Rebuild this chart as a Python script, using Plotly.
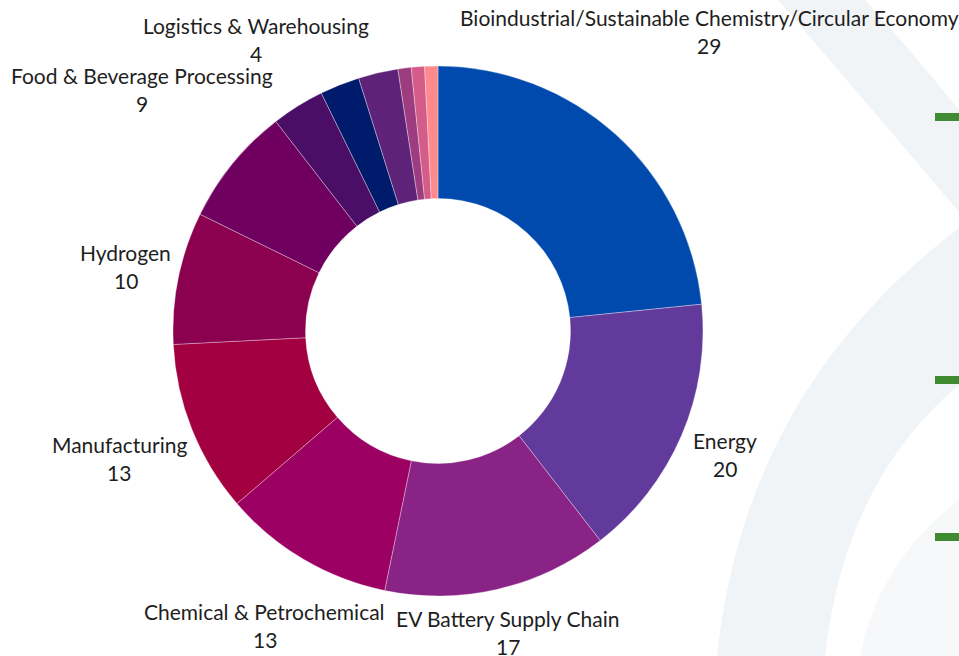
import math
import plotly.graph_objects as go

# ---- data ----
categories = [
    "Bioindustrial/Sustainable Chemistry/Circular Economy",
    "Energy",
    "EV Battery Supply Chain",
    "Chemical & Petrochemical",
    "Manufacturing",
    "Hydrogen",
    "Food & Beverage Processing",
    "Logistics & Warehousing",
    "Other sector A",
    "Other sector B",
    "Other sector C",
    "Other sector D",
    "Other sector E",
]
values = [29, 20, 17, 13, 13, 10, 9, 4, 3, 3, 1, 1, 1]
show_label = [True, True, True, True, True, True, True, True,
              False, False, False, False, False]
colors = ["#004AAD", "#623A9C", "#8A2386", "#9C0062", "#A20041", "#8C0050",
          "#6F005F", "#4B0E66", "#001B6B", "#5E2378", "#9E3C80", "#D35C89",
          "#FF8A8E"]

# ---- geometry (pixels) ----
W, H = 959, 656
CX, CY, R = 438, 331, 265
FONT = "Lato"
FS = 21

def px(x):
    return x / W

def py(y):
    return 1 - y / H

fig = go.Figure(go.Pie(
    labels=categories,
    values=values,
    hole=0.5,
    sort=False,
    direction="clockwise",
    rotation=0,
    textinfo="none",
    marker=dict(colors=colors, line=dict(color="rgba(255,255,255,0.55)", width=0.6)),
    domain=dict(x=[px(CX - R), px(CX + R)], y=[py(CY + R), py(CY - R)]),
    hoverinfo="label+value",
))

# ---- labels placed along each slice's mid-angle ----
total = sum(values)
annotations = []
cum = 0
gap_r = R + 12
for name, v, show in zip(categories, values, show_label):
    mid = (cum + v / 2) / total * 2 * math.pi
    cum += v
    if not show:
        continue
    ux, uy = math.sin(mid), -math.cos(mid)
    w = len(name) * 9.5 / 2
    h = 24
    lo, hi = 0.0, 1000.0
    for _ in range(60):
        d = (lo + hi) / 2
        dx = max(abs(ux * d) - w, 0)
        dy = max(abs(uy * d) - h, 0)
        if math.hypot(dx, dy) < gap_r:
            lo = d
        else:
            hi = d
    cx, cy = CX + ux * lo, CY + uy * lo
    for txt, off in ((name, -14), (str(v), 14)):
        annotations.append(dict(
            x=px(cx), y=py(cy + off), xref="paper", yref="paper",
            text=txt, showarrow=False, xanchor="center", yanchor="middle",
            font=dict(family=FONT, size=FS, color="#1E1E1E"),
        ))

# ---- decorative background ----
band = "#F1F4F7"
shapes = [
    dict(type="path", xref="paper", yref="paper", layer="below", line=dict(width=0),
         fillcolor=band,
         path=f"M {px(778)} {py(0)} L {px(865)} {py(0)} Q {px(915)} {py(55)} {px(959)} {py(110)} "
              f"L {px(959)} {py(212)} Q {px(860)} {py(95)} {px(778)} {py(0)} Z"),
    dict(type="path", xref="paper", yref="paper", layer="below", line=dict(width=0),
         fillcolor=band,
         path=f"M {px(717)} {py(656)} Q {px(745)} {py(390)} {px(959)} {py(228)} "
              f"L {px(959)} {py(385)} Q {px(845)} {py(480)} {px(825)} {py(656)} Z"),
    dict(type="path", xref="paper", yref="paper", layer="below", line=dict(width=0),
         fillcolor="#F6F8FA",
         path=f"M {px(860)} {py(656)} Q {px(880)} {py(560)} {px(959)} {py(500)} "
              f"L {px(959)} {py(656)} Z"),
]
for yy in (113, 376, 533):
    shapes.append(dict(type="rect", xref="paper", yref="paper", layer="above",
                       x0=px(935), x1=px(959), y0=py(yy + 8), y1=py(yy),
                       fillcolor="#408A31", line=dict(width=0)))

fig.update_layout(
    width=W, height=H,
    margin=dict(l=0, r=0, t=0, b=0),
    paper_bgcolor="white",
    plot_bgcolor="white",
    showlegend=False,
    annotations=annotations,
    shapes=shapes,
)

fig.write_html(
    "out.html",
    config={"displayModeBar": False},
    post_script="document.body.style.margin='0';document.body.style.overflow='hidden';",
)
